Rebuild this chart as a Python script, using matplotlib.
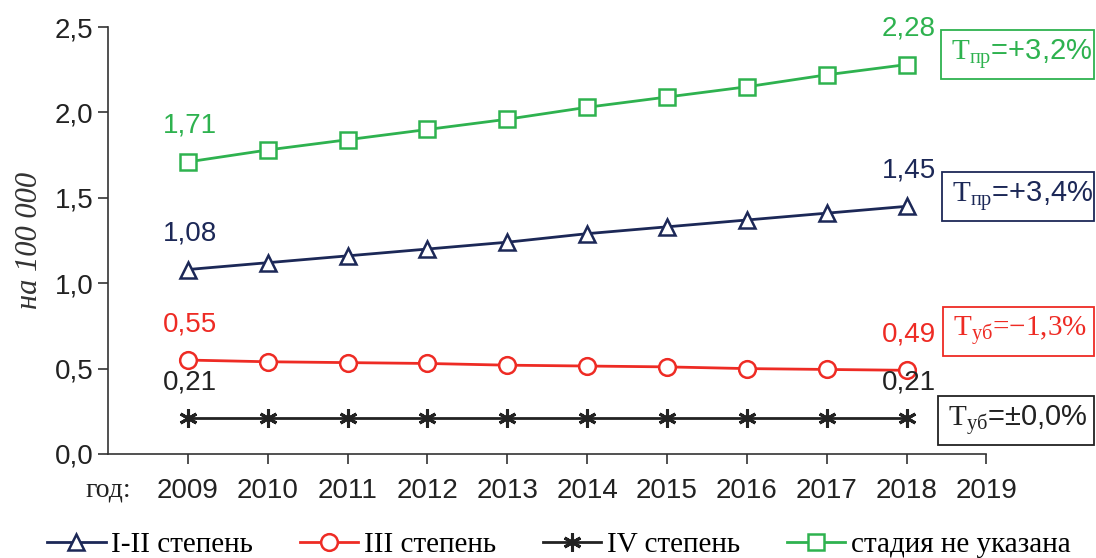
import matplotlib.pyplot as plt
from matplotlib.patches import Rectangle

# данные
years = [2009, 2010, 2011, 2012, 2013, 2014, 2015, 2016, 2017, 2018]
st_1_2 = [1.08, 1.12, 1.16, 1.20, 1.24, 1.29, 1.33, 1.37, 1.41, 1.45]
st_3 = [0.55, 0.54, 0.535, 0.53, 0.52, 0.515, 0.51, 0.50, 0.495, 0.49]
st_4 = [0.21, 0.21, 0.21, 0.21, 0.21, 0.21, 0.21, 0.21, 0.21, 0.21]
st_na = [1.71, 1.78, 1.84, 1.90, 1.96, 2.03, 2.09, 2.15, 2.22, 2.28]
xticks = list(range(2009, 2020))
yticks = [0.0, 0.5, 1.0, 1.5, 2.0, 2.5]

navy = '#1c2857'
red = '#ee2b24'
black = '#222222'
green = '#2eb24f'

plt.rcParams['mathtext.fontset'] = 'custom'
plt.rcParams['mathtext.rm'] = 'Liberation Serif'
plt.rcParams['font.family'] = ['Liberation Sans', 'DejaVu Sans']

fig = plt.figure(figsize=(10.96, 5.58), dpi=100)
ax = fig.add_axes([0.0985, 0.1864, 0.8015, 0.7652])

series = [
    (st_1_2, navy, '^', 'I-II степень'),
    (st_3, red, 'o', 'III степень'),
    (st_4, black, (6, 2, 0), 'IV степень'),
    (st_na, green, 's', 'стадия не указана'),
]
for vals, col, mk, lab in series:
    if mk == (6, 2, 0):
        ax.plot(years, vals, color=col, lw=2, marker=mk, ms=13, mew=2.2, label=lab)
    else:
        ax.plot(years, vals, color=col, lw=2, marker=mk, ms=12, mfc='white',
                mec=col, mew=1.8, label=lab)

# подписи крайних значений
def fmt(v):
    return f'{v:.2f}'.replace('.', ',')

for vals, col, _, _ in series:
    for i in (0, -1):
        ax.annotate(fmt(vals[i]), (years[i], vals[i]), xytext=(2, 36),
                    textcoords='offset pixels', ha='center', va='center',
                    fontsize=20, color=col)

# рамки с темпами
boxes = [
    (941, 30, green, r'$\mathrm{T}_{\mathrm{пр}}$=+3,2%', False),
    (942, 172, navy, r'$\mathrm{T}_{\mathrm{пр}}$=+3,4%', False),
    (943, 307, red, r'$\mathrm{T}_{\mathrm{уб}}$=−1,3%', True),
    (938, 396, black, r'$\mathrm{T}_{\mathrm{уб}}$=±0,0%', False),
]
W, H = 1096, 558
for x0, y0, col, txt, serif in boxes:
    bh = 49
    fig.patches.append(Rectangle((x0 / W, 1 - (y0 + bh) / H), (1094 - x0) / W, bh / H,
                                 transform=fig.transFigure, fill=False,
                                 edgecolor=col, lw=1.3))
    fam = ['Liberation Serif'] if serif else ['Liberation Sans', 'DejaVu Sans']
    fig.text((x0 + 10) / W, 1 - (y0 + bh / 2) / H, txt, color=col,
             fontsize=21, va='center', ha='left', family=fam)

ax.set_xlim(2008, 2019)
ax.set_ylim(0, 2.5)
ax.set_xticks(xticks)
ax.set_yticks(yticks)
ax.set_yticklabels([f'{v:.1f}'.replace('.', ',') for v in yticks])
ax.tick_params(axis='both', labelsize=20, color='#333333', labelcolor='#222222',
               length=7, width=1.2)
ax.tick_params(axis='x', pad=10)
ax.spines['top'].set_visible(False)
ax.spines['right'].set_visible(False)
ax.spines['left'].set_color('#333333')
ax.spines['bottom'].set_color('#333333')
ax.spines['left'].set_linewidth(1.2)
ax.spines['bottom'].set_linewidth(1.2)

ax.set_ylabel('на 100 000', fontsize=22, style='italic', family='Liberation Serif',
              color='#333333', labelpad=8)
fig.text(108 / W, 1 - 490 / H, 'год:', fontsize=20, family='Liberation Serif',
         ha='center', va='center', color='#222222')

leg = fig.legend(loc='center', bbox_to_anchor=(0.51, 1 - 545 / H), ncol=4,
                 frameon=False, handlelength=2.0, handletextpad=0.2,
                 columnspacing=1.6, prop={'family': 'Liberation Serif', 'size': 21})

fig.savefig('out.png', dpi=100)
